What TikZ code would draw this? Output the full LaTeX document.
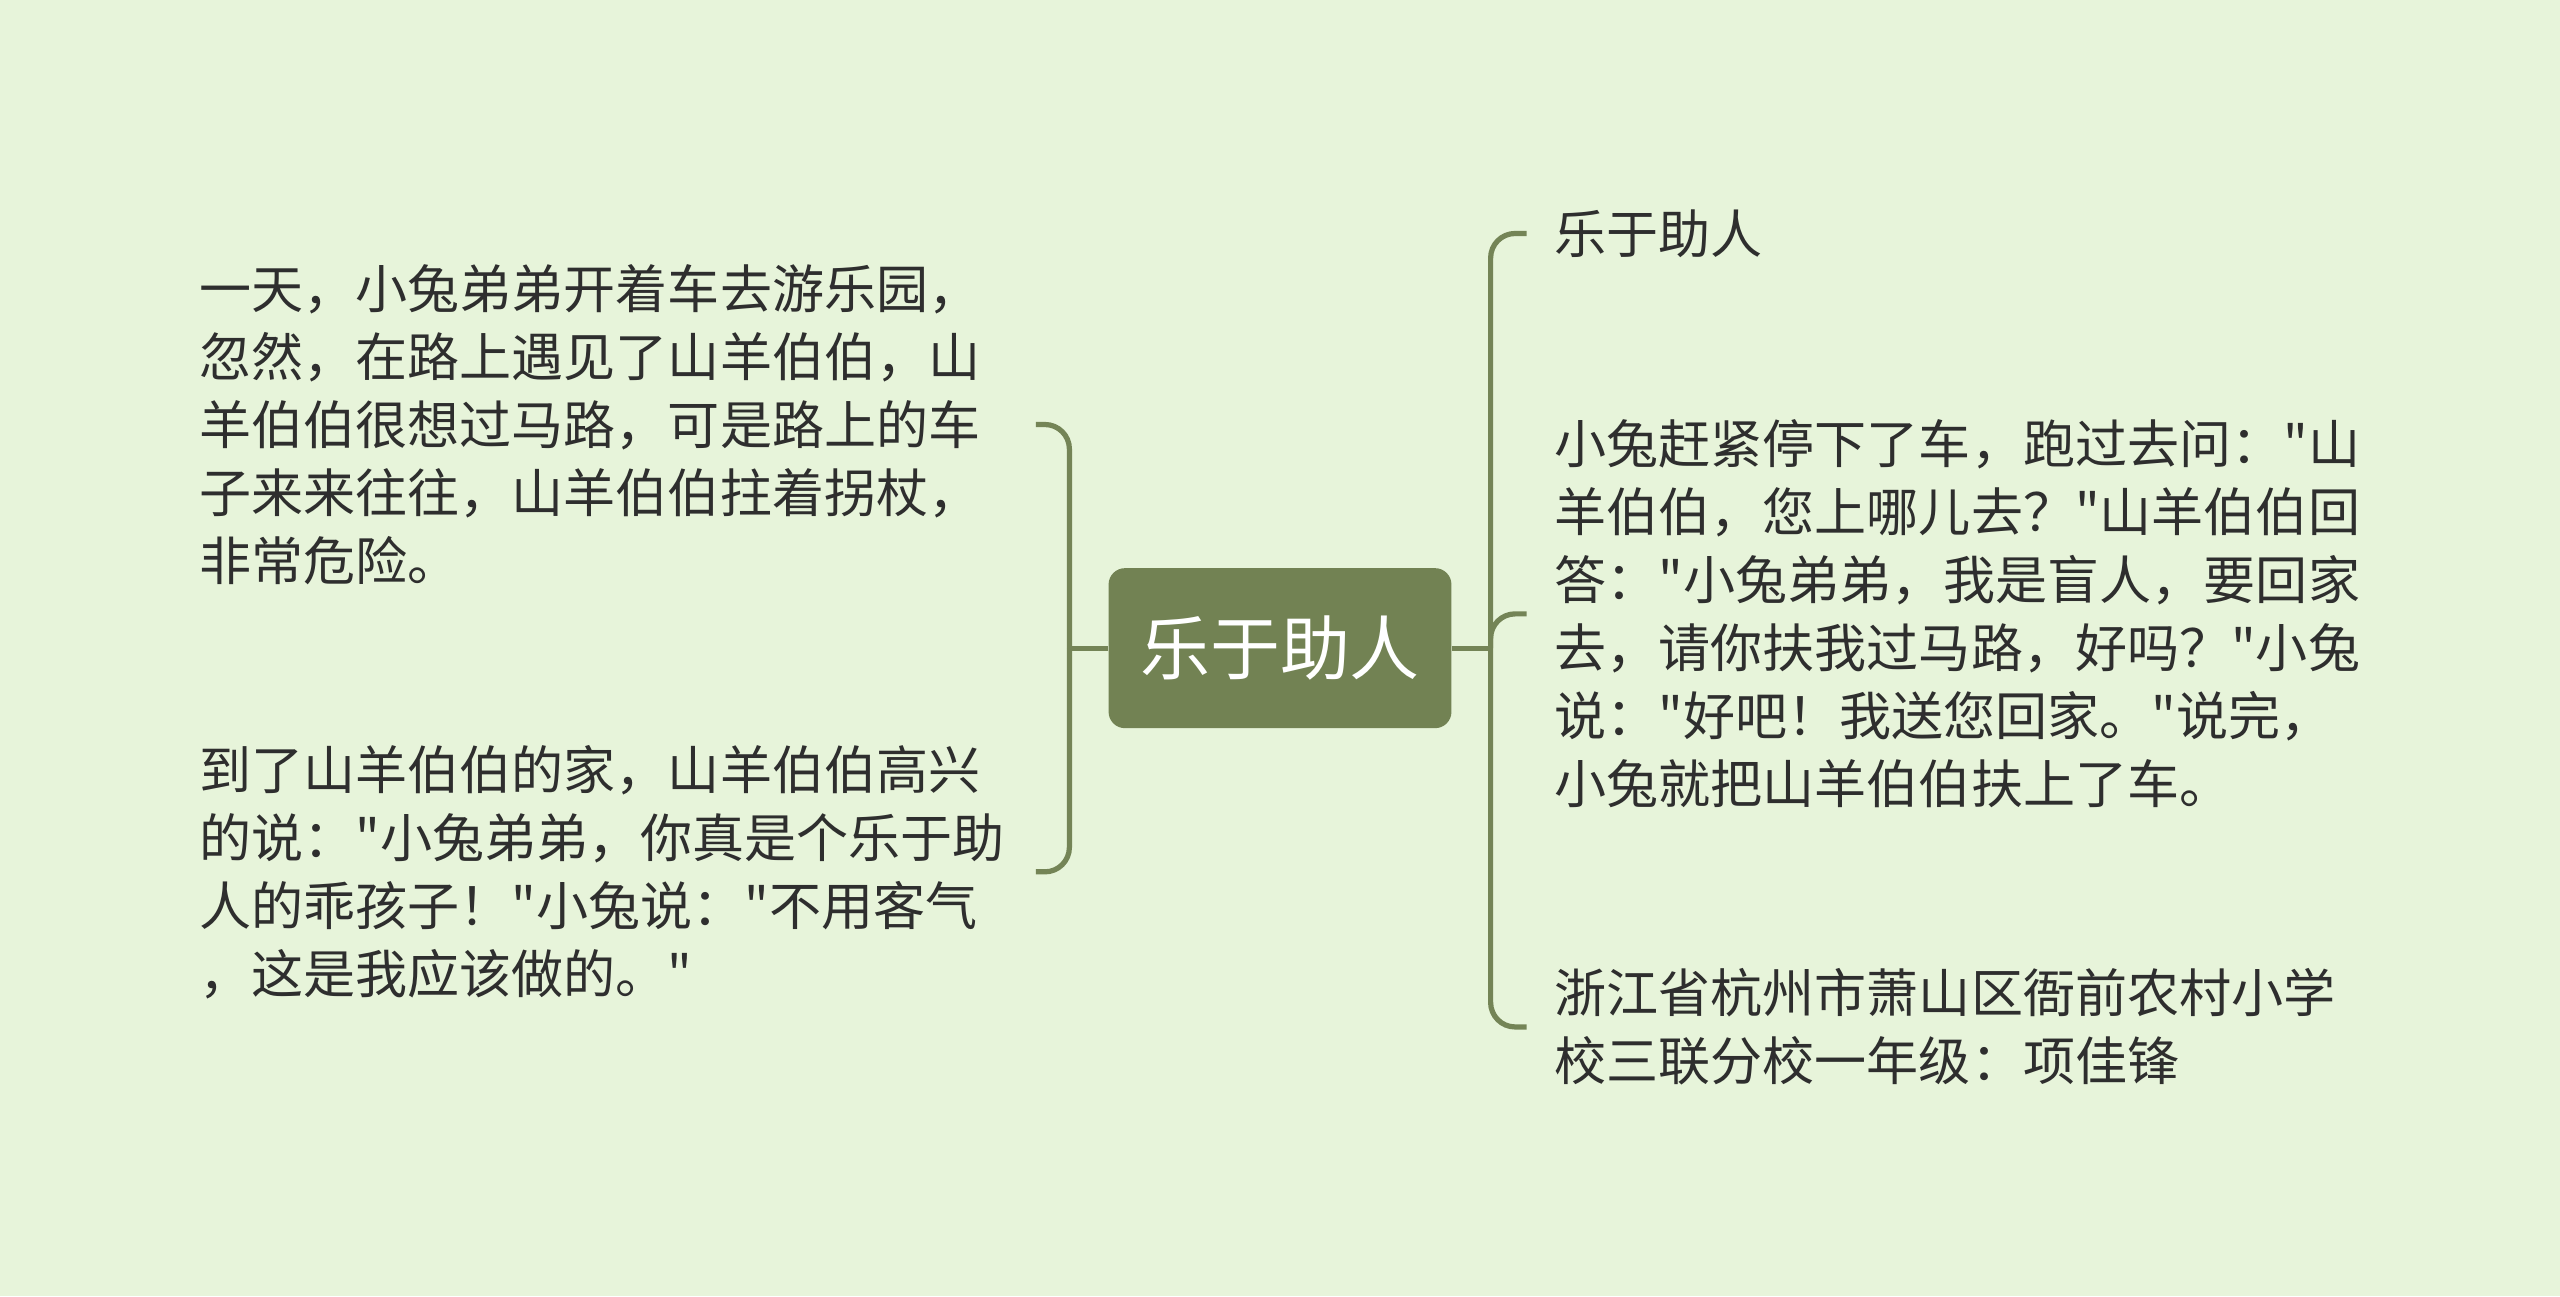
\documentclass[tikz,border=0pt]{standalone}
\usepackage{fontspec}
\newfontfamily\cjk{Noto Sans CJK SC}
\definecolor{bg}{HTML}{E7F4DA}
\definecolor{ln}{HTML}{748456}
\definecolor{cf}{HTML}{728253}
\definecolor{tx}{HTML}{2E2E2E}
\begin{document}
\begin{tikzpicture}[x=1bp,y=1bp,
  leaf/.style={anchor=west, inner ysep=0pt, text width=500bp, align=left,
    font=\cjk\fontsize{32}{41.8}\selectfont, text=tx},
  lleaf/.style={leaf, inner xsep=12bp},
  rleaf/.style={leaf, inner xsep=17bp},
  rootbox/.style={fill=cf, rounded corners=10bp, minimum width=210bp, minimum height=98bp,
    inner sep=0pt, text=white, font=\cjk\fontsize{43}{50}\selectfont},
  conn/.style={draw=ln, line width=3.2bp, rounded corners=15bp}]
\fill[bg] (0,0) rectangle (1568,-794);
\useasboundingbox (0,0) rectangle (1568,-794);

\node[rootbox] (C) at (784,-397) {乐于助人};

\node[lleaf] (L1) at (110,-260) {一天，小兔弟弟开着车去游乐园，\\忽然，在路上遇见了山羊伯伯，山\\羊伯伯很想过马路，可是路上的车\\子来来往往，山羊伯伯拄着拐杖，\\非常危险。};
\node[lleaf] (L2) at (110,-534) {到了山羊伯伯的家，山羊伯伯高兴\\的说："小兔弟弟，你真是个乐于助\\人的乖孩子！"小兔说："不用客气\\，这是我应该做的。"};

\node[rleaf] (R1) at (935,-143) {乐于助人};
\node[rleaf] (R2) at (935,-376) {小兔赶紧停下了车，跑过去问："山\\羊伯伯，您上哪儿去？"山羊伯伯回\\答："小兔弟弟，我是盲人，要回家\\去，请你扶我过马路，好吗？"小兔\\说："好吧！我送您回家。"说完，\\小兔就把山羊伯伯扶上了车。};
\node[rleaf] (R3) at (935,-629) {浙江省杭州市萧山区衙前农村小学\\校三联分校一年级：项佳锋};

\coordinate (lj) at (655,-397);
\coordinate (rj) at (913,-397);

\draw[conn] (C.west) -- (lj);
\draw[conn] (L1.east) -| (lj);
\draw[conn] (L2.east) -| (lj);

\draw[conn] (C.east) -- (rj);
\draw[conn] (rj) |- (R1.west);
\draw[conn] (rj) |- (R2.west);
\draw[conn] (rj) |- (R3.west);
\end{tikzpicture}
\end{document}
